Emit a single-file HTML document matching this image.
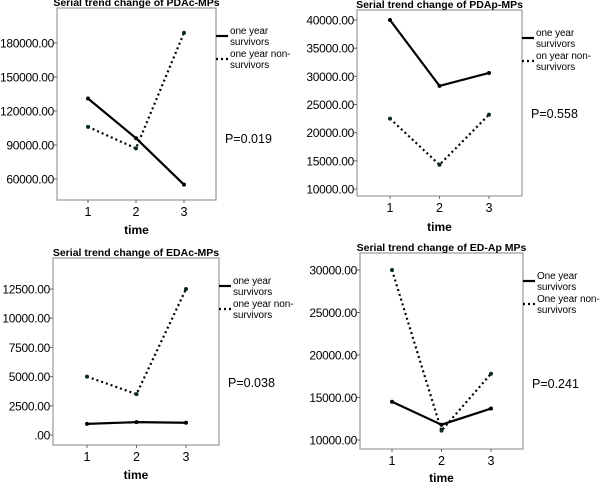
<!DOCTYPE html>
<html><head><meta charset="utf-8"><style>
body{margin:0;background:#fff;width:600px;height:490px;overflow:hidden}
svg{font-family:"Liberation Sans",Arial,sans-serif}
</style></head><body>
<svg id="c" width="600" height="490"></svg>
<script>
const categories=[1,2,3];
const p1Surv=[131000,96000,55000], p1Non=[106000,87000,189000], p1Ticks=[60000,90000,120000,150000,180000];
const p2Surv=[40000,28300,30600], p2Non=[22500,14300,23200], p2Ticks=[10000,15000,20000,25000,30000,35000,40000];
const p3Surv=[950,1100,1050], p3Non=[5000,3500,12500], p3Ticks=[0,2500,5000,7500,10000,12500];
const p4Surv=[14500,11800,13700], p4Non=[30000,11100,17800], p4Ticks=[10000,15000,20000,25000,30000];
const titles=["Serial trend change of PDAc-MPs","Serial trend change of PDAp-MPs","Serial trend change of EDAc-MPs","Serial trend change of ED-Ap MPs"];
const pvals=["P=0.019","P=0.558","P=0.038","P=0.241"];
const leg1=[["one year","survivors"],["one year","survivors"],["one year","survivors"],["One year","survivors"]];
const leg2=[["one year non-","survivors"],["on year non-","survivors"],["one year non-","survivors"],["One year non-","survivors"]];
const NS="http://www.w3.org/2000/svg", svg=document.getElementById('c');
function el(t,a,txt){const e=document.createElementNS(NS,t);for(const k in a)e.setAttribute(k,a[k]);if(txt!==undefined)e.textContent=txt;svg.appendChild(e);return e;}
const panels=[
 {surv:p1Surv,non:p1Non,ticks:p1Ticks,bx:[57,216],by:[8,200],xs:[88,184],ya:[60000,179,180000,43],py:143,ty:234},
 {surv:p2Surv,non:p2Non,ticks:p2Ticks,bx:[357,522],by:[10,196],xs:[390,489],ya:[10000,189,40000,20],py:118,ty:231},
 {surv:p3Surv,non:p3Non,ticks:p3Ticks,bx:[53,219],by:[258,445],xs:[87,186],ya:[0,435,12500,289],py:387,ty:479},
 {surv:p4Surv,non:p4Non,ticks:p4Ticks,bx:[360,523],by:[253,449],xs:[392,491],ya:[10000,440,30000,270],py:388,ty:482}];
panels.forEach((p,i)=>{
 const yS=v=>p.ya[1]+(v-p.ya[0])*(p.ya[3]-p.ya[1])/(p.ya[2]-p.ya[0]);
 const xS=c=>p.xs[0]+(c-1)*(p.xs[1]-p.xs[0])/2;
 let e=el('rect',{x:p.bx[0],y:p.by[0],width:p.bx[1]-p.bx[0],height:p.by[1]-p.by[0],fill:'#fff',stroke:'#999','stroke-width':1.2});
 
 const cx=(p.bx[0]+p.bx[1])/2;
 e=el('text',{x:cx,y:p.by[0]-2,'text-anchor':'middle','font-size':10.5,'font-weight':'bold'},titles[i]);
 
 p.ticks.forEach(t=>{const y=yS(t);
  el('line',{x1:p.bx[0]-3,x2:p.bx[0],y1:y,y2:y,stroke:'#666'});
  e=el('text',{x:p.bx[0]-3,y:y+4.5,'text-anchor':'end','font-size':12,'letter-spacing':'-0.3'},t===0?'.00':t.toFixed(2));
  });
 categories.forEach(c=>{const x=xS(c);
  el('line',{x1:x,x2:x,y1:p.by[1],y2:p.by[1]+3,stroke:'#666'});
  e=el('text',{x:x,y:p.by[1]+16,'text-anchor':'middle','font-size':12.5},c);
  });
 e=el('text',{x:cx,y:p.ty,'text-anchor':'middle','font-size':12,'font-weight':'bold'},'time');
 
 [[p.non,'2,3','#0a2a1a','non-survivors-line'],[p.surv,null,'#000','survivors-line']].forEach(([d,dash,col,nm])=>{
  const pts=d.map((v,j)=>xS(categories[j])+','+yS(v)).join(' ');
  const a={points:pts,fill:'none',stroke:'#000','stroke-width':2.2};if(dash)a['stroke-dasharray']=dash;
  e=el('polyline',a);
  d.forEach((v,j)=>{e=el('circle',{cx:xS(categories[j]),cy:yS(v),r:2,fill:col});
   });
 });
 const lx=p.bx[1], ly=[p.by[0]+28,p.by[0]+51];
 e=el('line',{x1:lx,x2:lx+12,y1:ly[0],y2:ly[0],stroke:'#000','stroke-width':2.2});
 
 e=el('line',{x1:lx,x2:lx+12,y1:ly[1],y2:ly[1],stroke:'#000','stroke-width':2.2,'stroke-dasharray':'2,3'});
 
 [[leg1[i],ly[0]],[leg2[i],ly[1]]].forEach(([t,y])=>{
  e=el('text',{x:lx+14,y:y-2,'font-size':10,'letter-spacing':'-0.1'},t[0]);
  e=el('text',{x:lx+14,y:y+9,'font-size':10,'letter-spacing':'-0.1'},t[1]);});
 e=el('text',{x:lx+9,y:p.py,'font-size':12.5},pvals[i]);
 
});
</script>
</body></html>
